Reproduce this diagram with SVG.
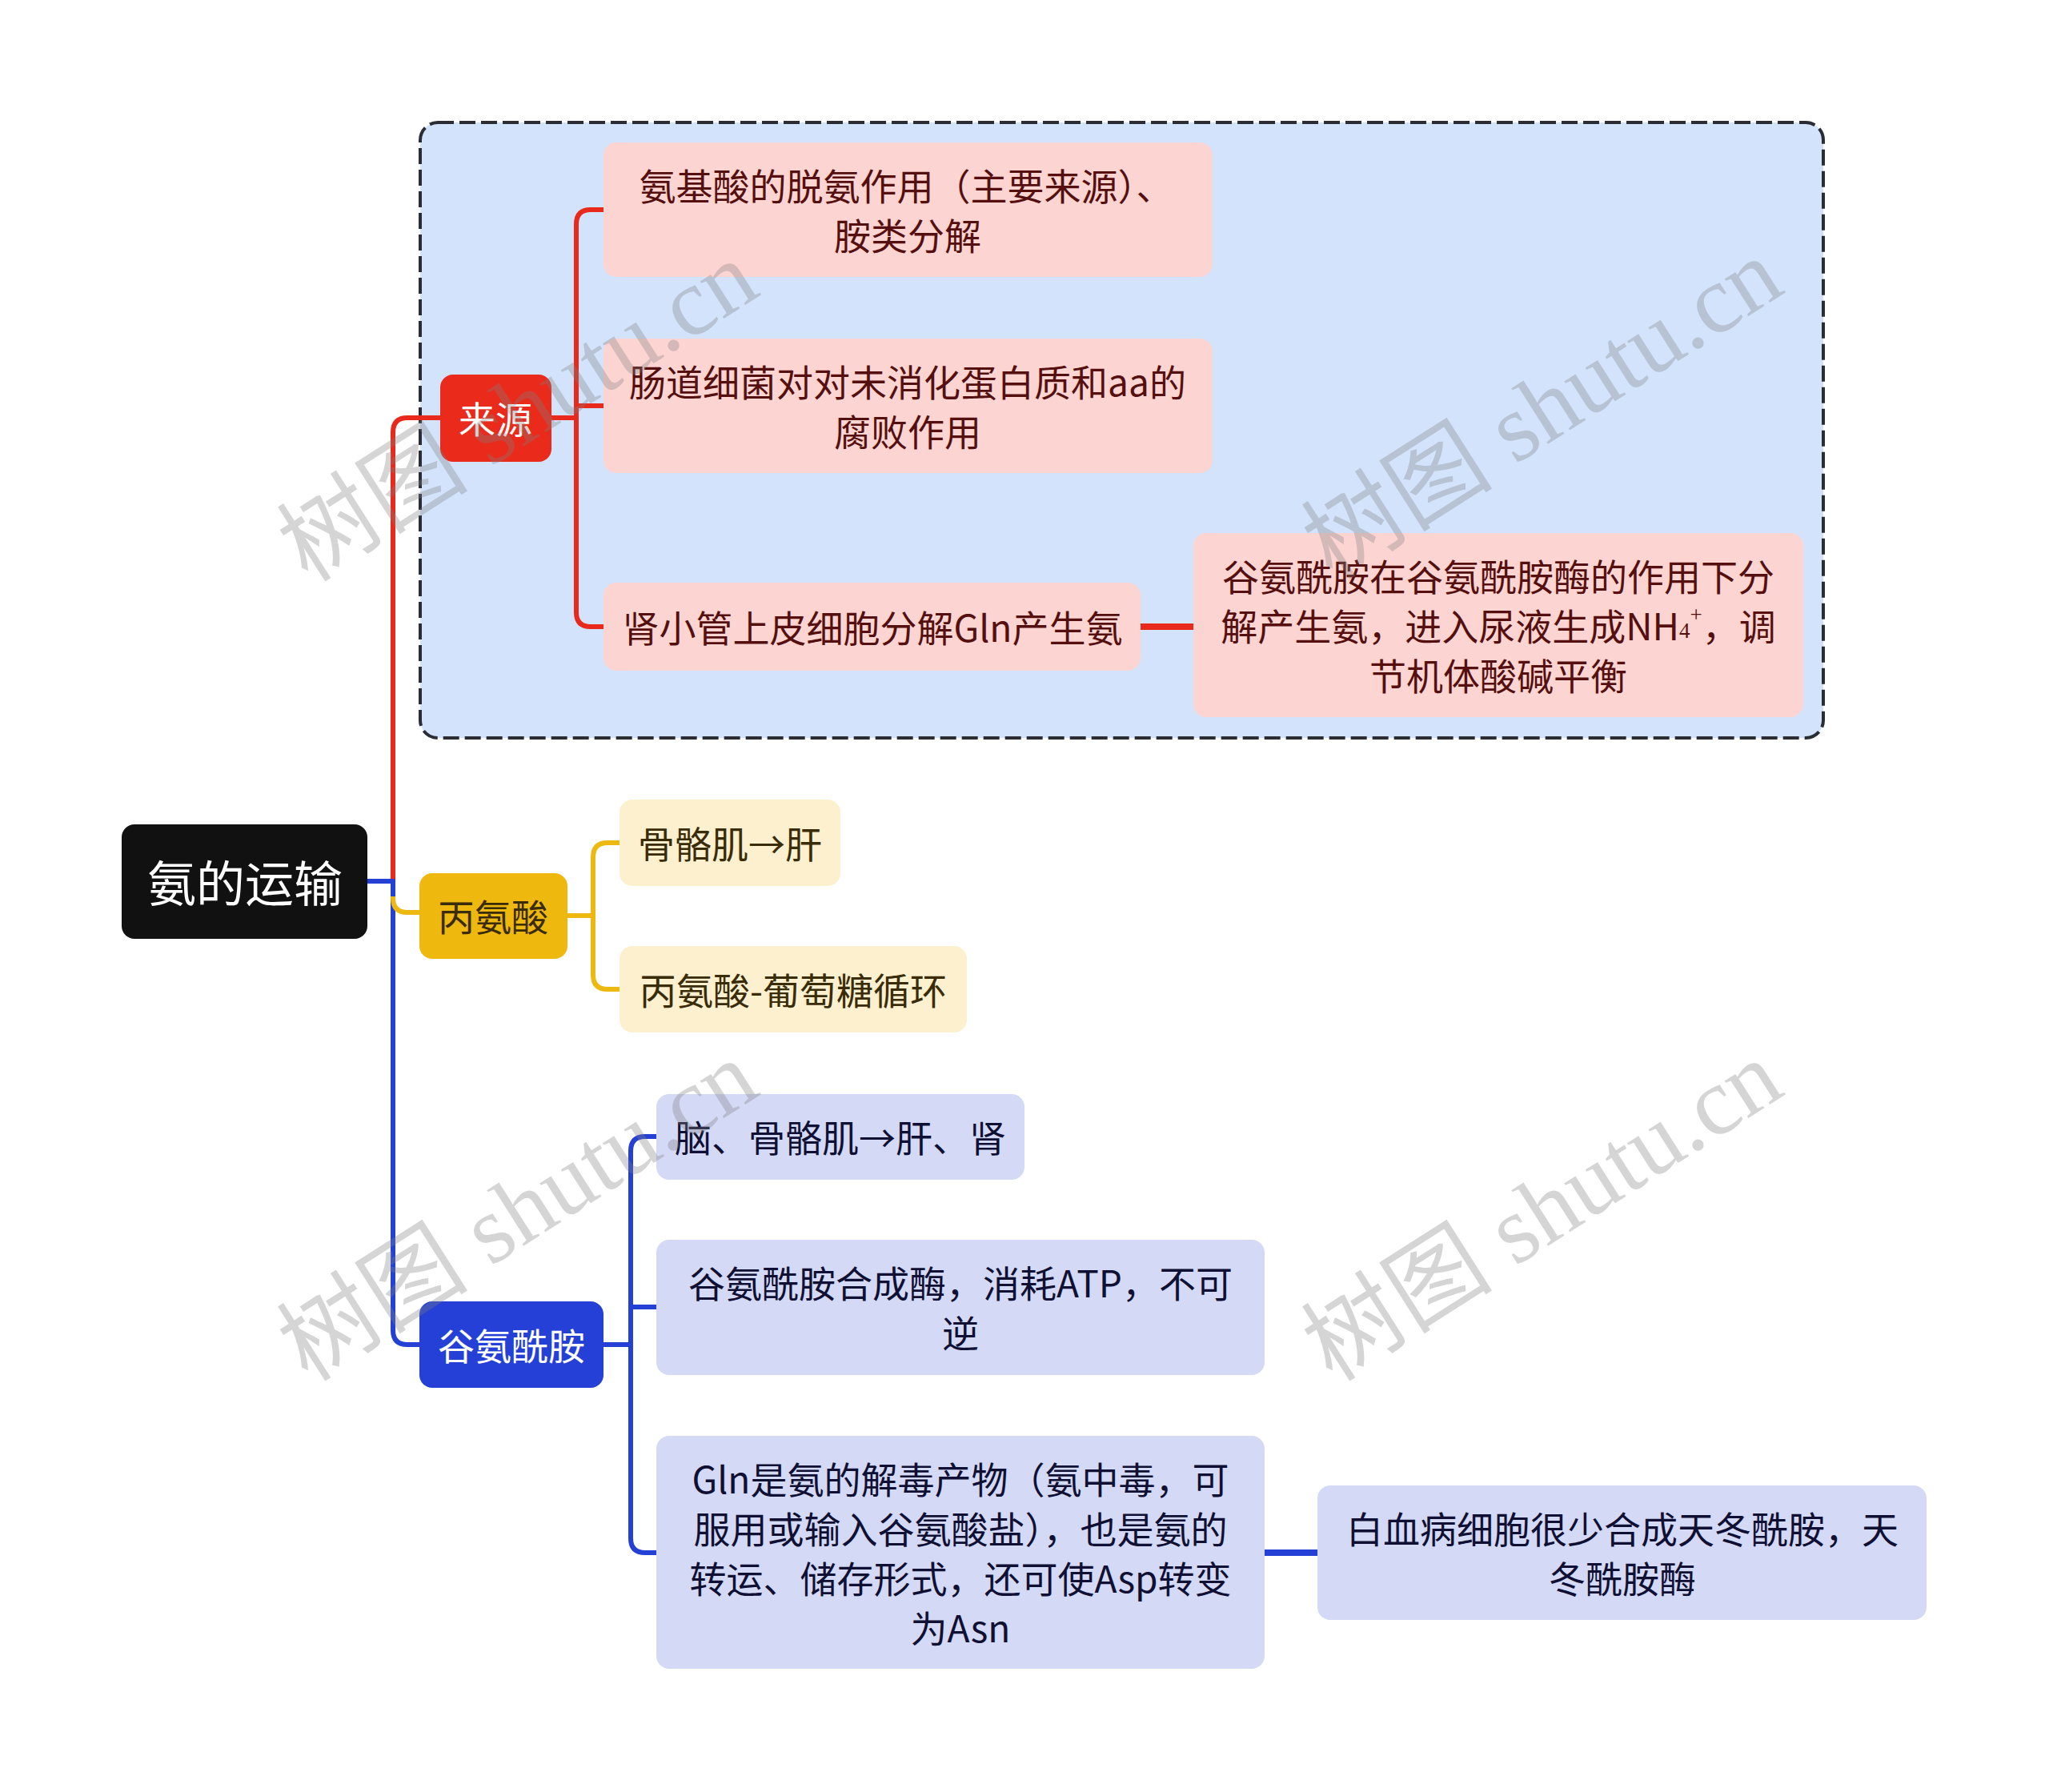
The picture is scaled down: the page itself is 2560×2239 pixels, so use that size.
<svg xmlns="http://www.w3.org/2000/svg" width="2560" height="2239" viewBox="0 0 2560 2239">
<style>
text{font-family:"Noto Sans CJK SC","Noto Sans",sans-serif;font-size:46px;text-anchor:middle;dominant-baseline:central}
.root{fill:#111111}
.rt{fill:#ffffff;font-size:61px}
.red{fill:#EA2A1B}
.pink{fill:#FCD5D2}
.pt{fill:#560F0F}
.yel{fill:#EFB80E}
.ylt{fill:#FCF0CF}
.yt{fill:#3A2C08}
.blu{fill:#2540D6}
.blt{fill:#D4D9F6}
.bt{fill:#0F1033}
.wt{fill:#ffffff}
.c{fill:none;stroke-width:6;stroke-linejoin:round}
.cr{stroke:#E8291B}
.cy{stroke:#EDB810}
.cb{stroke:#2540D4}
.wm{font-family:"Liberation Serif","Noto Sans CJK SC",serif;font-size:120px;fill:#808080;fill-opacity:0.33}
</style>
<rect x="525" y="153" width="1753" height="769" rx="22" fill="#D3E3FC" stroke="#2a2d33" stroke-width="4" stroke-dasharray="20 7"/>
<g id="connectors">
<path class="c cr" d="M459,1101 H491 V540 Q491,522 509,522 H550"/>
<path class="c cb" d="M459,1101 H491 V1662 Q491,1680 509,1680 H524"/>
<path class="c cy" d="M491,1110 V1122 Q491,1140 509,1140 H524"/>
<path class="c cb" d="M459,1101 H491 V1120"/>
<path class="c cr" d="M689,522 H720"/>
<path class="c cr" d="M755,262 H738 Q720,262 720,280 V765 Q720,783 738,783 H755"/>
<path class="c cr" d="M720,507 H755"/>
<path class="c cr" style="stroke-width:8" d="M1425,783 H1491"/>
<path class="c cy" d="M709,1144 H741"/>
<path class="c cy" d="M774,1053 H759 Q741,1053 741,1071 V1218 Q741,1236 759,1236 H774"/>
<path class="c cb" d="M754,1680 H788"/>
<path class="c cb" d="M820,1420 H806 Q788,1420 788,1438 V1922 Q788,1940 806,1940 H820"/>
<path class="c cb" d="M788,1633 H820"/>
<path class="c cb" style="stroke-width:8" d="M1580,1940 H1646"/>
</g>
<g id="root">
<rect class="root" x="152" y="1030" width="307" height="143" rx="16"/>
<text class="rt" x="306" y="1100">氨的运输</text>
</g>
<g id="laiyuan">
<rect class="red" x="550" y="468" width="139" height="109" rx="16"/>
<text class="wt" x="619" y="521">来源</text>
</g>
<g id="src1">
<rect class="pink" x="754" y="178" width="761" height="168" rx="16"/>
<text class="pt" x="1132" y="230">氨基酸的脱氨作用（主要来源）、</text>
<text class="pt" x="1134" y="292">胺类分解</text>
</g>
<g id="src2">
<rect class="pink" x="754" y="423" width="761" height="168" rx="16"/>
<text class="pt" x="1134" y="475">肠道细菌对对未消化蛋白质和aa的</text>
<text class="pt" x="1134" y="537">腐败作用</text>
</g>
<g id="src3">
<rect class="pink" x="754" y="728" width="671" height="110" rx="16"/>
<text class="pt" x="1090" y="782">肾小管上皮细胞分解Gln产生氨</text>
</g>
<g id="src3a">
<rect class="pink" x="1491" y="666" width="762" height="230" rx="16"/>
<text class="pt" x="1872" y="718">谷氨酰胺在谷氨酰胺酶的作用下分</text>
<text class="pt" x="1872" y="780">解产生氨，进入尿液生成NH<tspan font-family="Liberation Serif" font-size="27" dy="8">4</tspan><tspan font-family="Liberation Serif" font-size="27" dy="-20">+</tspan><tspan dy="12">，调</tspan></text>
<text class="pt" x="1872" y="842">节机体酸碱平衡</text>
</g>
<g id="alanine">
<rect class="yel" x="524" y="1091" width="185" height="107" rx="16"/>
<text class="yt" x="616" y="1143">丙氨酸</text>
</g>
<g id="ala1">
<rect class="ylt" x="774" y="999" width="276" height="108" rx="16"/>
<text class="yt" x="912" y="1052">骨骼肌→肝</text>
</g>
<g id="ala2">
<rect class="ylt" x="774" y="1182" width="434" height="108" rx="16"/>
<text class="yt" x="991" y="1235">丙氨酸-葡萄糖循环</text>
</g>
<g id="glutamine">
<rect class="blu" x="524" y="1626" width="230" height="108" rx="16"/>
<text class="wt" x="639" y="1679">谷氨酰胺</text>
</g>
<g id="gln1">
<rect class="blt" x="820" y="1367" width="460" height="107" rx="16"/>
<text class="bt" x="1050" y="1419">脑、骨骼肌→肝、肾</text>
</g>
<g id="gln2">
<rect class="blt" x="820" y="1549" width="760" height="169" rx="16"/>
<text class="bt" x="1200" y="1601">谷氨酰胺合成酶，消耗ATP，不可</text>
<text class="bt" x="1200" y="1663">逆</text>
</g>
<g id="gln3">
<rect class="blt" x="820" y="1794" width="760" height="291" rx="16"/>
<text class="bt" x="1200" y="1846">Gln是氨的解毒产物（氨中毒，可</text>
<text class="bt" x="1200" y="1908">服用或输入谷氨酸盐），也是氨的</text>
<text class="bt" x="1200" y="1970">转运、储存形式，还可使Asp转变</text>
<text class="bt" x="1200" y="2032">为Asn</text>
</g>
<g id="gln3a">
<rect class="blt" x="1646" y="1856" width="761" height="168" rx="16"/>
<text class="bt" x="2027" y="1908">白血病细胞很少合成天冬酰胺，天</text>
<text class="bt" x="2027" y="1970">冬酰胺酶</text>
</g>
<g id="watermarks">
<text class="wm" transform="translate(647,514) rotate(-32.5)">树图 shutu.cn</text>
<text class="wm" transform="translate(1927,511) rotate(-32.5)">树图 shutu.cn</text>
<text class="wm" transform="translate(647,1513) rotate(-32.5)">树图 shutu.cn</text>
<text class="wm" transform="translate(1927,1513) rotate(-32.5)">树图 shutu.cn</text>
</g>
</svg>
